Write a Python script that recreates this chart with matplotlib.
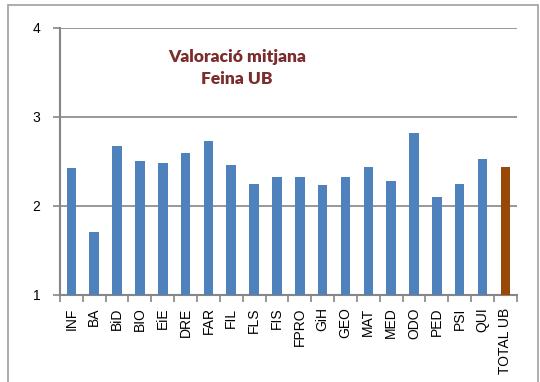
import matplotlib.pyplot as plt
from matplotlib.patches import Rectangle

categories = ["INF", "BA", "BiD", "BIO", "EiE", "DRE", "FAR", "FIL", "FLS", "FIS",
              "FPRO", "GiH", "GEO", "MAT", "MED", "ODO", "PED", "PSI", "QUI", "TOTAL UB"]
values = [2.43, 1.71, 2.67, 2.51, 2.48, 2.59, 2.73, 2.46, 2.25, 2.32,
          2.32, 2.24, 2.32, 2.44, 2.28, 2.82, 2.10, 2.25, 2.53, 2.44]

BLUE = "#4F81BD"
BROWN = "#984807"
GRID = "#868686"

plt.rcParams['font.family'] = ['Lato', 'DejaVu Sans']

fig = plt.figure(figsize=(5.4, 3.82), dpi=100)
ax = fig.add_axes([0.111, 0.228, 0.846, 0.699])

colors = [BLUE] * (len(values) - 1) + [BROWN]
x = list(range(len(categories)))
ax.bar(x, [v - 1 for v in values], bottom=1, width=0.42, color=colors, zorder=3)

ax.set_xlim(-0.5, len(categories) - 0.5)
ax.set_ylim(1, 4)
ax.set_yticks([1, 2, 3, 4])
ax.yaxis.grid(True, color=GRID, linewidth=1.2, zorder=0)

# category labels at centres, tick marks between categories
ax.set_xticks(x)
ax.set_xticklabels(categories, rotation=90, fontsize=10, family=['Liberation Sans'])
ax.tick_params(axis='x', length=0, pad=9)
ax.set_xticks([i - 0.5 for i in range(len(categories) + 1)], minor=True)
ax.tick_params(axis='x', which='minor', length=5, color=GRID, width=1.2)
ax.tick_params(axis='y', length=5, color=GRID, width=1.2, labelsize=10, pad=9)
for lbl in ax.get_yticklabels():
    lbl.set_family(['Liberation Sans'])

for side in ['top', 'right']:
    ax.spines[side].set_visible(False)
for side in ['left', 'bottom']:
    ax.spines[side].set_color(GRID)
    ax.spines[side].set_linewidth(1.5)

ax.text(7.25, 3.55, "Valoració mitjana\nFeina UB", ha='center', va='center',
        fontsize=12.5, fontweight='heavy', color="#7B2C2C", linespacing=1.45)

# outer frame, open at the bottom edge
fig.patches.append(Rectangle((8 / 540, -0.05), 530 / 540, 1.05 - 5 / 382,
                             transform=fig.transFigure, fill=False,
                             edgecolor="#A0A0A0", linewidth=1.2))

fig.savefig("out.png", dpi=100)
